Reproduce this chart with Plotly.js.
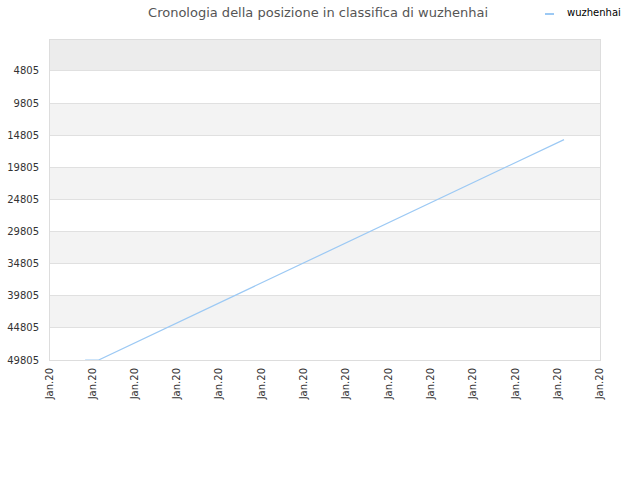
<!DOCTYPE html>
<html>
<head>
<meta charset="utf-8">
<script src="https://cdn.plot.ly/plotly-3.0.1.min.js"></script>
<style>body{margin:0;padding:0;background:#fff}</style>
</head>
<body>
<div id="plot" style="width:640px;height:480px"></div>
<script>
// ranking history of wuzhenhai (lower number = better)
var xPos = [0.83, 1.15, 12.15];
var rank = [49805, 49805, 15500];
var tickVals = [0, 1, 2, 3, 4, 5, 6, 7, 8, 9, 10, 11, 12, 13];
var tickText = ["Jan.20", "Jan.20", "Jan.20", "Jan.20", "Jan.20", "Jan.20", "Jan.20",
                "Jan.20", "Jan.20", "Jan.20", "Jan.20", "Jan.20", "Jan.20", "Jan.20"];
var rankTicks = [4805, 9805, 14805, 19805, 24805, 29805, 34805, 39805, 44805, 49805];
var seriesName = "wuzhenhai";

function plot(){
    var trace = {
        type: "scatter",
        x: xPos,
        y: rank,
        mode: "lines",
        name: seriesName,
        showlegend: false,
        line: {color: "#9cc9f4", width: 1.2}
    };
    var layout = {
        width: 640,
        height: 480,
        paper_bgcolor: "#fff",
        plot_bgcolor: "#fff",
        font: {family: "DejaVu Sans, sans-serif", size: 10, color: "#333"},
        margin: {l: 50, r: 40, t: 40, b: 120},
        title: {
            text: "Cronologia della posizione in classifica di wuzhenhai",
            x: 0.497, xanchor: "center", y: 0.975, yanchor: "middle",
            font: {family: "DejaVu Sans, sans-serif", size: 13, color: "#555"}
        },
        xaxis: {
            range: [0, 13],
            tickvals: tickVals,
            ticktext: tickText,
            tickangle: -90,
            showgrid: false,
            zeroline: false,
            showline: true,
            linecolor: "#ddd",
            mirror: true,
            ticks: "outside",
            ticklen: 3,
            tickcolor: "rgba(0,0,0,0)",
            fixedrange: true
        },
        yaxis: {
            range: [49805, 0],
            tickvals: rankTicks,
            ticktext: rankTicks.map(String),
            showgrid: true,
            gridcolor: "#e0e0e0",
            zeroline: false,
            showline: true,
            linecolor: "#ddd",
            mirror: true,
            ticks: "outside",
            ticklen: 8,
            tickcolor: "rgba(0,0,0,0)",
            fixedrange: true
        },
        shapes: [],
        annotations: [{
            xref: "paper", yref: "paper",
            x: (565 - 50) / 550, y: 1 + (40 - 13) / 320,
            xanchor: "left", yanchor: "middle",
            text: seriesName, showarrow: false,
            font: {family: "DejaVu Sans, sans-serif", size: 10, color: "#000"}
        }]
    };
    // alternating background bands between rank ticks
    var edges = [0].concat(rankTicks);
    for (var i = 0; i < edges.length - 1; i++){
        var fill = i === 0 ? "#ececec" : (i % 2 === 0 ? "#f3f3f3" : "#ffffff");
        layout.shapes.push({
            type: "rect", xref: "paper", yref: "y",
            x0: 0, x1: 1, y0: edges[i], y1: edges[i + 1],
            fillcolor: fill, line: {width: 0}, layer: "below"
        });
    }
    // legend swatch
    layout.shapes.push({
        type: "line", xref: "paper", yref: "paper",
        x0: (545 - 50) / 550, x1: (554 - 50) / 550,
        y0: 1 + (40 - 14) / 320, y1: 1 + (40 - 14) / 320,
        line: {color: "#9cc9f4", width: 2}
    });
    Plotly.newPlot("plot", [trace], layout, {displayModeBar: false});
}
plot();
</script>
</body>
</html>
